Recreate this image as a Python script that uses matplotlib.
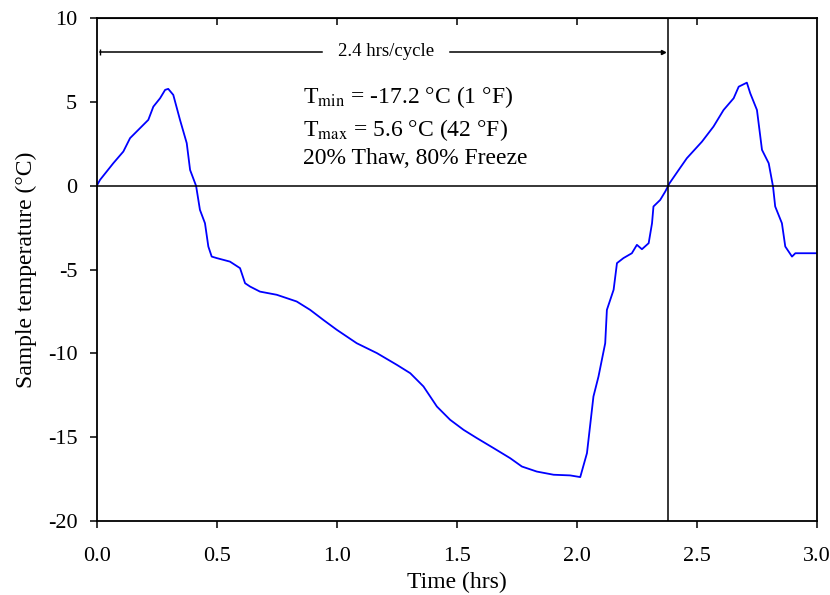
import numpy as np
import matplotlib
matplotlib.use("Agg")
import matplotlib.pyplot as plt

plt.rcParams['font.family'] = ['Liberation Serif', 'DejaVu Serif']
plt.rcParams['mathtext.fontset'] = 'stix'
plt.rcParams['axes.unicode_minus'] = False

# Sample temperature trace
time_hrs = [0.0, 0.014, 0.069, 0.111, 0.139, 0.215, 0.236, 0.264, 0.285, 0.298,
            0.319, 0.347, 0.375, 0.389, 0.414, 0.43, 0.451, 0.465, 0.479, 0.5,
            0.555, 0.597, 0.618, 0.639, 0.68, 0.75, 0.833, 0.889, 0.944, 1.0,
            1.083, 1.167, 1.25, 1.306, 1.361, 1.417, 1.472, 1.528, 1.583, 1.653,
            1.722, 1.771, 1.833, 1.903, 1.972, 2.014, 2.042, 2.069, 2.09, 2.118,
            2.125, 2.153, 2.167, 2.194, 2.229, 2.25, 2.271, 2.299, 2.313, 2.319,
            2.347, 2.368, 2.386, 2.424, 2.458, 2.521, 2.569, 2.611, 2.653, 2.674,
            2.708, 2.722, 2.75, 2.771, 2.799, 2.817, 2.826, 2.854, 2.868, 2.896,
            2.91, 3.0]
temp_c = [0.0, 0.36, 1.35, 2.05, 2.85, 3.94, 4.73, 5.23, 5.73, 5.79,
          5.43, 3.94, 2.55, 0.95, 0.0, -1.43, -2.23, -3.62, -4.22, -4.31,
          -4.52, -4.91, -5.81, -6.01, -6.31, -6.5, -6.9, -7.4, -8.0, -8.59,
          -9.39, -9.98, -10.68, -11.18, -11.97, -13.17, -13.96, -14.56, -15.05, -15.65,
          -16.25, -16.75, -17.05, -17.24, -17.28, -17.38, -15.95, -12.57, -11.38, -9.39,
          -7.4, -6.2, -4.61, -4.31, -4.02, -3.52, -3.78, -3.42, -2.23, -1.23,
          -0.84, -0.34, 0.16, 0.95, 1.65, 2.64, 3.54, 4.53, 5.23, 5.92,
          6.16, 5.53, 4.53, 2.15, 1.35, -0.04, -1.23, -2.23, -3.62, -4.22,
          -4.02, -4.02]

cycle_end = 2.38
x_ticks = [0.0, 0.5, 1.0, 1.5, 2.0, 2.5, 3.0]
y_ticks = [-20, -15, -10, -5, 0, 5, 10]

fig = plt.figure(figsize=(8.3, 5.95), dpi=100)
ax = fig.add_axes([0.1165, 0.1244, 0.8678, 0.8448])

ax.plot(time_hrs, temp_c, color='#0000ff', linewidth=1.3)
ax.axhline(0, color='black', linewidth=1.1)
ax.axvline(cycle_end, color='black', linewidth=1.1)

# cycle length marker
ax.plot([0.015, 0.937], [8, 8], color='black', linewidth=1.1,
        marker='|', markevery=[0], markersize=4)
ax.plot([1.472, cycle_end - 0.02], [8, 8], color='black', linewidth=1.1,
        marker='>', markevery=[1], markersize=3)
ax.text(1.205, 8, '2.4 hrs/cycle', fontsize=13.5, ha='center', va='center')

ax.text(0.86, 5.3, r'T$_{\mathrm{min}}$ = -17.2 °C (1 °F)', fontsize=17, va='center')
ax.text(0.86, 3.35, r'T$_{\mathrm{max}}$ = 5.6 °C (42 °F)', fontsize=17, va='center')
ax.text(0.86, 1.65, '20% Thaw, 80% Freeze', fontsize=17, va='center')

ax.set_xlim(0, 3.0)
ax.set_ylim(-20, 10)
ax.set_xticks(x_ticks)
ax.set_xticklabels(['%.1f' % v for v in x_ticks])
ax.set_yticks(y_ticks)
ax.tick_params(labelsize=16, length=5, width=1.1, direction='out')
ax.tick_params(axis='x', pad=14)
ax.tick_params(axis='y', pad=9)
for s in ax.spines.values():
    s.set_linewidth(1.3)

top = ax.secondary_xaxis('top')
top.set_xticks(x_ticks[1:-1])
top.tick_params(direction='in', length=5, width=1.1, labeltop=False)

ax.set_xlabel('Time (hrs)', fontsize=17, labelpad=4)
ax.set_ylabel('Sample temperature (°C)', fontsize=17, labelpad=8)

plt.savefig('out.png', dpi=100)
